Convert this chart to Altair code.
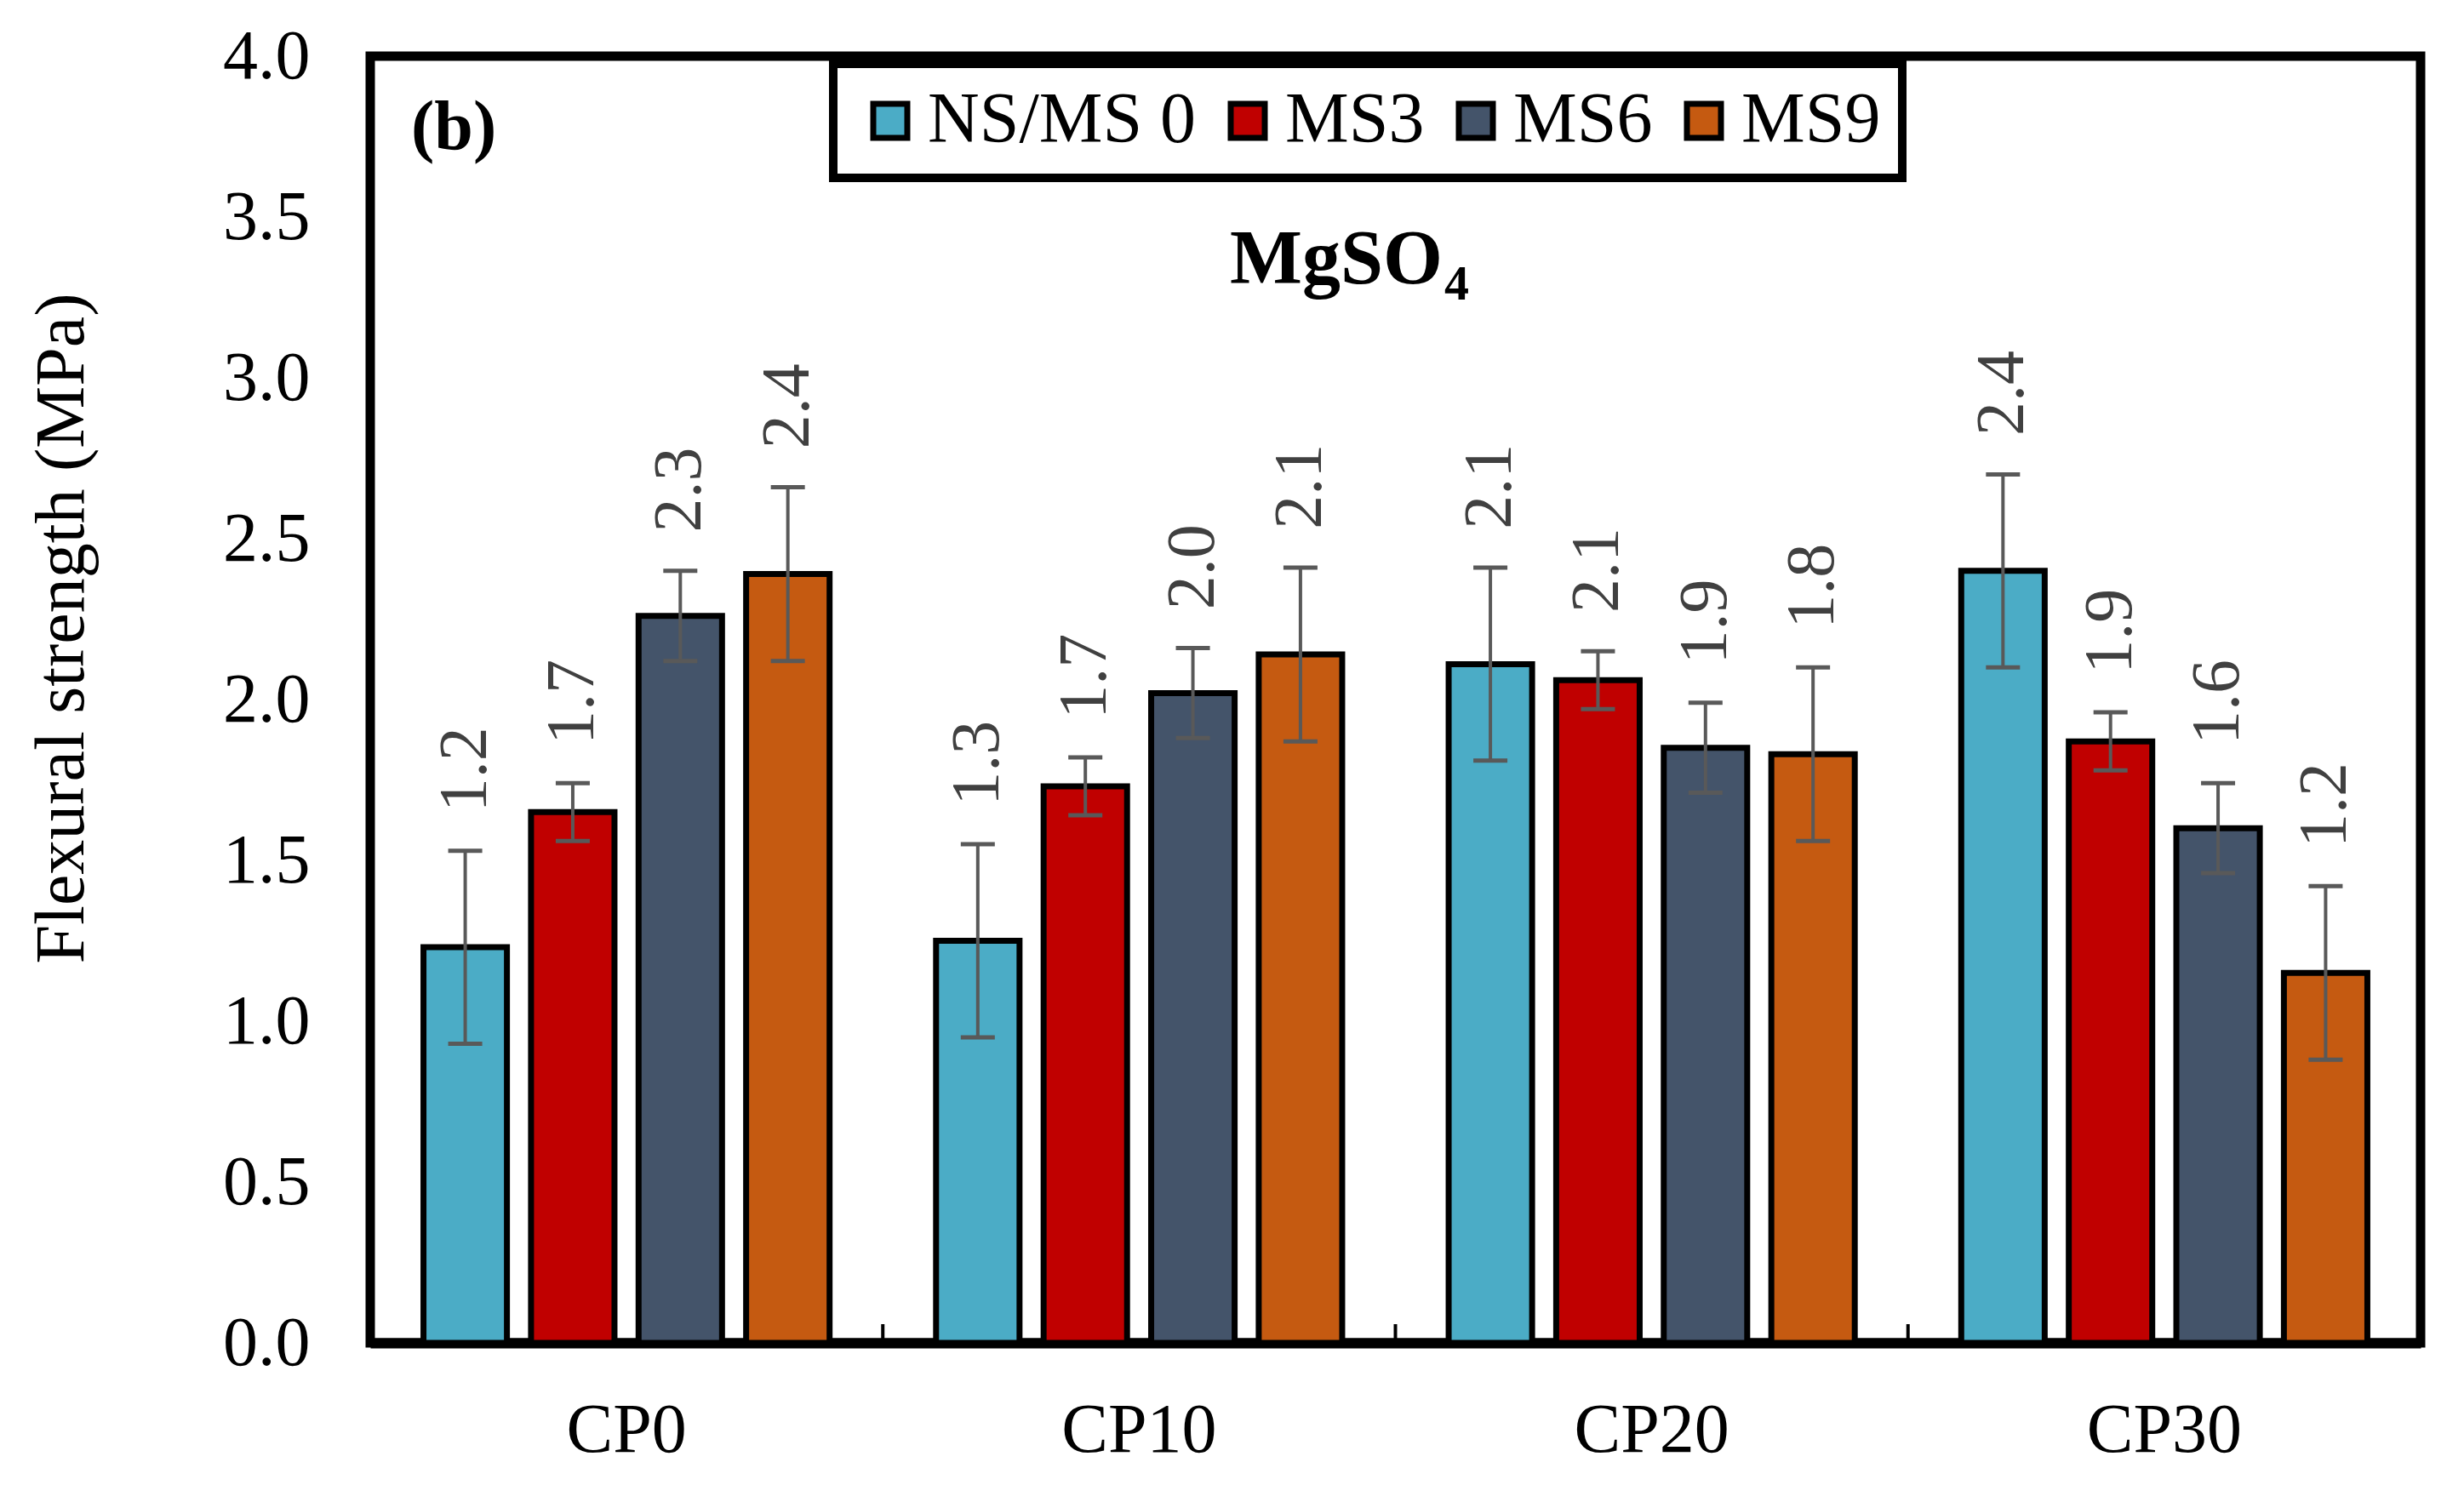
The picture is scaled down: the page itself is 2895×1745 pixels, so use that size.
import altair as alt
import pandas as pd

FONT = "Liberation Serif"

##--data
groups = ["CP0", "CP10", "CP20", "CP30"]
series = ["NS/MS 0", "MS3", "MS6", "MS9"]
colors = ["#4BACC6", "#C00000", "#44546A", "#C55A11"]

ns0 = [1.23, 1.25, 2.11, 2.40]
ms3 = [1.65, 1.73, 2.06, 1.87]
ms6 = [2.26, 2.02, 1.85, 1.60]
ms9 = [2.39, 2.14, 1.83, 1.15]

ns0_err = [0.30, 0.30, 0.30, 0.30]
ms3_err = [0.09, 0.09, 0.09, 0.09]
ms6_err = [0.14, 0.14, 0.14, 0.14]
ms9_err = [0.27, 0.27, 0.27, 0.27]

ns0_lbl = ["1.2", "1.3", "2.1", "2.4"]
ms3_lbl = ["1.7", "1.7", "2.1", "1.9"]
ms6_lbl = ["2.3", "2.0", "1.9", "1.6"]
ms9_lbl = ["2.4", "2.1", "1.8", "1.2"]

y_ticks = [0.0, 0.5, 1.0, 1.5, 2.0, 2.5, 3.0, 3.5, 4.0]

rows = []
for s, vals, errs, lbls in zip(series,
                               [ns0, ms3, ms6, ms9],
                               [ns0_err, ms3_err, ms6_err, ms9_err],
                               [ns0_lbl, ms3_lbl, ms6_lbl, ms9_lbl]):
    for g, v, e, l in zip(groups, vals, errs, lbls):
        rows.append({"group": g, "series": s, "value": v, "err": e, "label": l})
df = pd.DataFrame(rows)

W, H = 2409, 1512

x = alt.X("group:N", sort=groups,
          scale=alt.Scale(paddingInner=0, paddingOuter=0),
          axis=alt.Axis(title=None, labelAngle=0, labelFont=FONT, labelFontSize=82,
                        labelColor="black", labelPadding=62, labelLimit=0, ticks=False,
                        domainColor="black", domainWidth=12, grid=False))
xo = alt.XOffset("series:N", sort=series,
                 scale=alt.Scale(paddingInner=0.224, paddingOuter=0.495))
y = alt.Y("value:Q", scale=alt.Scale(domain=[0, 4], nice=False),
          axis=alt.Axis(values=y_ticks, format=".1f", labelFont=FONT, labelFontSize=82,
                        labelColor="black", labelPadding=71, ticks=False, domain=False,
                        grid=False, title="Flexural strength (MPa)", titleFont=FONT,
                        titleFontSize=82, titleFontWeight="normal", titleColor="black",
                        titleAngle=270, titleBaseline="bottom", titleAlign="center",
                        titleX=-321, titleY=672))

base = alt.Chart(df).transform_calculate(
    lo="datum.value - datum.err",
    hi="datum.value + datum.err",
    label_y="datum.value + datum.err + 0.12")

bars = base.mark_bar(stroke="black", strokeWidth=7).encode(
    x=x, xOffset=xo, y=y,
    color=alt.Color("series:N", sort=series,
                    scale=alt.Scale(domain=series, range=colors),
                    legend=alt.Legend(title=None, orient="none", legendX=544, legendY=9,
                                      direction="horizontal", columns=4,
                                      strokeColor="black", fillColor="white",
                                      columnPadding=18, labelOffset=2,
                                      symbolType="square", symbolSize=1600,
                                      symbolStrokeColor="black", symbolStrokeWidth=7,
                                      symbolOpacity=1, labelFont=FONT, labelFontSize=84,
                                      labelColor="black", labelLimit=0)))

err_line = base.mark_rule(color="#595959", strokeWidth=4).encode(
    x=x, xOffset=xo, y="lo:Q", y2="hi:Q")
cap_hi = base.mark_tick(color="#595959", thickness=5, size=40, opacity=1).encode(
    x=x, xOffset=xo, y="hi:Q")
cap_lo = base.mark_tick(color="#595959", thickness=5, size=40, opacity=1).encode(
    x=x, xOffset=xo, y="lo:Q")

labels = base.mark_text(angle=270, align="left", baseline="middle", font=FONT,
                        fontSize=80, color="#404040").encode(
    x=x, xOffset=xo, y="label_y:Q", text="label:N")

# small inward ticks between the groups
cat_ticks = alt.Chart(pd.DataFrame({"group": groups})).mark_rule(
    color="black", strokeWidth=4).encode(
    x=alt.X("group:N", sort=groups, bandPosition=0),
    y=alt.value(H), y2=alt.value(H - 22))

panel = alt.Chart(pd.DataFrame({"t": ["(b)"]})).mark_text(
    align="left", baseline="alphabetic", font=FONT, fontSize=82, fontWeight="bold",
    color="black").encode(x=alt.value(48), y=alt.value(109), text="t:N")

salt = alt.Chart(pd.DataFrame({"t": ["MgSO"]})).mark_text(
    align="right", baseline="alphabetic", font=FONT, fontSize=90, fontWeight="bold",
    color="black").encode(x=alt.value(1260), y=alt.value(267), text="t:N")
salt_sub = alt.Chart(pd.DataFrame({"t": ["4"]})).mark_text(
    align="left", baseline="alphabetic", font=FONT, fontSize=58, fontWeight="bold",
    color="black").encode(x=alt.value(1262), y=alt.value(286), text="t:N")

chart = alt.layer(bars, err_line, cap_hi, cap_lo, labels, cat_ticks,
                  panel, salt, salt_sub
        ).properties(width=W, height=H, autosize="none",
                     padding={"left": 427, "top": 58, "right": 43, "bottom": 159}
        ).configure_view(stroke="black", strokeWidth=11
        ).configure_axis(grid=False
        ).configure_legend(padding=25, strokeWidth=10, cornerRadius=0)

chart.save("out.html", embed_options={"renderer": "svg", "actions": False})
